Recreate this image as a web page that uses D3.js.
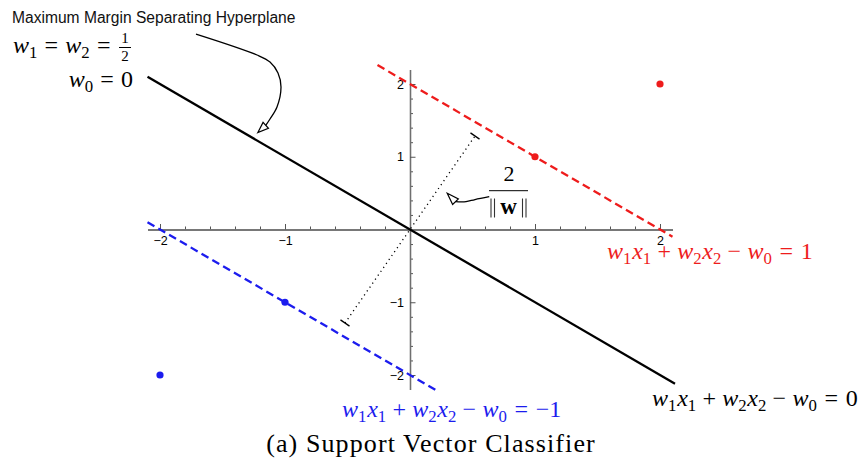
<!DOCTYPE html>
<html>
<head>
<meta charset="utf-8">
<script src="https://cdn.jsdelivr.net/npm/d3@7"></script>
<style>
  body { margin: 0; background: #fff; }
  svg { display: block; }
</style>
</head>
<body>
<svg id="chart" width="863" height="461"></svg>
<script>
// ---- data ---------------------------------------------------------------
const xTickValues = [-2, -1, 1, 2];
const yTickValues = [-2, -1, 1, 2];
const xTickLabels = ["\u22122", "\u22121", "1", "2"];
const yTickLabels = ["\u22122", "\u22121", "1", "2"];

// weights of the separating hyperplane  w1*x1 + w2*x2 - w0 = c
const weightW1 = 0.5;
const weightW2 = 0.5;
const weightW0 = 0;

// the three hyperplanes (c = 0, +1, -1) and the x1 span each is drawn over
const planeOffsets = [0, 1, -1];
const planeSpans = [[-2.1, 2.12], [-0.26, 2.1], [-2.1, 0.22]];

// support vectors / training points
const positivePoints = [[1, 1], [2, 2]];
const negativePoints = [[-1, -1], [-2, -2]];

// margin width indicator (dotted, with end caps)
const marginSegment = [[-0.52, -1.285], [0.52, 1.285]];

// annotation arrows, in data units
const hyperplaneArrow = [[-1.712, 2.687], [-1.224, 2.399], [-1.12, 2.302], [-1.056, 2.151],
                         [-1.032, 1.959], [-1.064, 1.684], [-1.12, 1.519], [-1.154, 1.432]];
const hyperplaneArrowTip = [-1.218, 1.331];
const marginArrow = [[0.634, 0.451], [0.52, 0.412], [0.448, 0.382], [0.364, 0.382]];
const marginArrowTip = [0.298, 0.498];

// ---- scales ---------------------------------------------------------------
const svg = d3.select("#chart");
svg.append("rect").attr("width", 863).attr("height", 461).attr("fill", "#fff");

const x = d3.scaleLinear().domain([-2.1, 2.1]).range([147.5, 672.5]);
const y = d3.scaleLinear().domain([-2.2, 2.2]).range([389.55, 69.45]);

const SERIF = '"Liberation Serif", "DejaVu Serif", serif';
const SANS = '"Liberation Sans", Arial, sans-serif';
const AXIS = "#6f6f6f";

// ---- axes -----------------------------------------------------------------
const minorX = d3.range(-20, 21, 2).map(v => v / 10).filter(v => Math.abs(v) > 1e-9 && !xTickValues.includes(v));
const minorY = d3.range(-20, 21, 2).map(v => v / 10).filter(v => Math.abs(v) > 1e-9 && !yTickValues.includes(v));

function styleAxis(g) {
  g.selectAll("path.domain").attr("stroke", AXIS).attr("stroke-width", 1.3);
  g.selectAll(".tick line").attr("stroke", "#555").attr("stroke-width", 1);
  g.selectAll(".tick text").attr("font-family", SANS).attr("font-size", 12.5).attr("fill", "#000");
}

// x axis: minor ticks, then major ticks with labels below
svg.append("g").attr("transform", `translate(0,${y(0)})`)
  .call(d3.axisBottom(x).tickValues(minorX).tickSizeInner(-3).tickSizeOuter(0).tickFormat(""))
  .call(styleAxis);
svg.append("g").attr("transform", `translate(0,${y(0)})`)
  .call(d3.axisBottom(x).tickValues(xTickValues).tickSizeInner(-5.5).tickSizeOuter(0).tickPadding(6.5)
    .tickFormat((d, i) => xTickLabels[i]))
  .call(styleAxis);

// y axis
svg.append("g").attr("transform", `translate(${x(0)},0)`)
  .call(d3.axisLeft(y).tickValues(minorY).tickSizeInner(-3).tickSizeOuter(0).tickFormat(""))
  .call(styleAxis);
svg.append("g").attr("transform", `translate(${x(0)},0)`)
  .call(d3.axisLeft(y).tickValues(yTickValues).tickSizeInner(-5.5).tickSizeOuter(0).tickPadding(6)
    .tickFormat((d, i) => yTickLabels[i]))
  .call(styleAxis);

// ---- hyperplanes ----------------------------------------------------------
const planeStyles = [
  { color: "#000", dash: null },
  { color: "#ee1c1c", dash: "8,4.5" },
  { color: "#1c1cee", dash: "8,4.5" }
];
const line = d3.line().x(d => x(d[0])).y(d => y(d[1]));
planeOffsets.forEach((c, i) => {
  const x2 = x1 => (c + weightW0 - weightW1 * x1) / weightW2;
  const pts = planeSpans[i].map(x1 => [x1, x2(x1)]);
  svg.append("path").attr("d", line(pts)).attr("fill", "none")
    .attr("stroke", planeStyles[i].color).attr("stroke-width", 2.3)
    .attr("stroke-dasharray", planeStyles[i].dash);
});

// ---- points ---------------------------------------------------------------
svg.selectAll("circle.pos").data(positivePoints).join("circle").attr("class", "pos")
  .attr("cx", d => x(d[0])).attr("cy", d => y(d[1])).attr("r", 3.6).attr("fill", "#ee1c1c");
svg.selectAll("circle.neg").data(negativePoints).join("circle").attr("class", "neg")
  .attr("cx", d => x(d[0])).attr("cy", d => y(d[1])).attr("r", 3.6).attr("fill", "#1c1cee");

// ---- margin indicator -----------------------------------------------------
svg.append("path").attr("d", line(marginSegment)).attr("fill", "none")
  .attr("stroke", "#000").attr("stroke-width", 1.3).attr("stroke-dasharray", "1.2,3.6");
{
  const [a, b] = marginSegment.map(p => [x(p[0]), y(p[1])]);
  const len = Math.hypot(b[0] - a[0], b[1] - a[1]);
  const nx = -(b[1] - a[1]) / len, ny = (b[0] - a[0]) / len;
  [a, b].forEach(p => {
    svg.append("line")
      .attr("x1", p[0] - nx * 5.5).attr("y1", p[1] - ny * 5.5)
      .attr("x2", p[0] + nx * 5.5).attr("y2", p[1] + ny * 5.5)
      .attr("stroke", "#000").attr("stroke-width", 1.3);
  });
}

// ---- annotation arrows ----------------------------------------------------
function openArrow(pts, tip) {
  const curve = d3.line().x(d => x(d[0])).y(d => y(d[1])).curve(d3.curveCatmullRom);
  svg.append("path").attr("d", curve(pts)).attr("fill", "none").attr("stroke", "#000").attr("stroke-width", 1.3);
  const base = [x(pts[pts.length - 1][0]), y(pts[pts.length - 1][1])];
  const apex = [x(tip[0]), y(tip[1])];
  const len = Math.hypot(apex[0] - base[0], apex[1] - base[1]);
  const nx = -(apex[1] - base[1]) / len * 4, ny = (apex[0] - base[0]) / len * 4;
  svg.append("path")
    .attr("d", `M${apex[0]},${apex[1]}L${base[0] + nx},${base[1] + ny}L${base[0] - nx},${base[1] - ny}Z`)
    .attr("fill", "#fff").attr("stroke", "#000").attr("stroke-width", 1.2).attr("stroke-linejoin", "miter");
}
openArrow(hyperplaneArrow, hyperplaneArrowTip);
openArrow(marginArrow, marginArrowTip);

// ---- math text helper -----------------------------------------------------
// tokens: [text, kind, dxEm]; kind: i = italic, r = roman, b = bold, sub = subscript
function mathText(px, py, size, color, tokens, anchor) {
  const t = svg.append("text").attr("x", px).attr("y", py).attr("fill", color)
    .attr("font-family", SERIF).attr("font-size", size).attr("text-anchor", anchor || "start");
  let shift = 0;
  tokens.forEach(([s, kind, dx]) => {
    const sub = kind === "sub";
    const target = sub ? size * 0.22 : 0;
    const ts = t.append("tspan").text(s);
    if (target - shift !== 0) ts.attr("dy", target - shift);
    shift = target;
    if (dx) ts.attr("dx", dx * size);
    if (kind === "i") ts.attr("font-style", "italic");
    if (kind === "b") ts.attr("font-weight", "bold");
    if (sub) ts.attr("font-size", size * 0.7);
  });
  return t;
}

const planeEquation = rhs => [
  ["w", "i"], ["1", "sub"], ["x", "i", 0.03], ["1", "sub"],
  ["+", "r", 0.26], ["w", "i", 0.26], ["2", "sub"], ["x", "i", 0.03], ["2", "sub"],
  ["\u2212", "r", 0.26], ["w", "i", 0.26], ["0", "sub"],
  ["=", "r", 0.32], [rhs, "r", 0.32]
];

mathText(652, 406, 24, "#000", planeEquation("0"));
mathText(607, 259, 24, "#ee1c1c", planeEquation("1"));
mathText(342, 417, 24, "#1c1cee", planeEquation("\u22121"));

// ---- hyperplane annotation --------------------------------------------------
svg.append("text").attr("x", 12).attr("y", 23).attr("font-family", SANS).attr("font-size", 15.6)
  .attr("fill", "#111").text("Maximum Margin Separating Hyperplane");

mathText(13, 53, 24, "#000", [["w", "i"], ["1", "sub"], ["=", "r", 0.3], ["w", "i", 0.3], ["2", "sub"], ["=", "r", 0.3]]);
svg.append("text").attr("x", 125).attr("y", 43).attr("text-anchor", "middle")
  .attr("font-family", SERIF).attr("font-size", 15).text("1");
svg.append("line").attr("x1", 119).attr("x2", 131).attr("y1", 47.5).attr("y2", 47.5)
  .attr("stroke", "#000").attr("stroke-width", 1);
svg.append("text").attr("x", 125).attr("y", 60.5).attr("text-anchor", "middle")
  .attr("font-family", SERIF).attr("font-size", 15).text("2");
mathText(133, 87, 24, "#000", [["w", "i"], ["0", "sub"], ["=", "r", 0.3], ["0", "r", 0.3]], "end");

// ---- margin width label  2 / ||w|| ------------------------------------------
svg.append("text").attr("x", 509).attr("y", 181).attr("text-anchor", "middle")
  .attr("font-family", SERIF).attr("font-size", 22).text("2");
svg.append("line").attr("x1", 489).attr("x2", 528).attr("y1", 190.7).attr("y2", 190.7)
  .attr("stroke", "#000").attr("stroke-width", 1);
svg.append("text").attr("x", 508.5).attr("y", 213.5).attr("text-anchor", "middle")
  .attr("font-family", SERIF).attr("font-size", 23).attr("font-weight", "bold").text("w");
// double norm bars
[491, 494.5, 522.5, 526].forEach(bx => {
  svg.append("line").attr("x1", bx).attr("x2", bx).attr("y1", 198.5).attr("y2", 217.5)
    .attr("stroke", "#333").attr("stroke-width", 1.1);
});

// ---- caption ----------------------------------------------------------------
svg.append("text").attr("x", 431).attr("y", 452).attr("text-anchor", "middle")
  .attr("font-family", SERIF).attr("font-size", 26).attr("letter-spacing", 1.1).attr("fill", "#000")
  .text("(a) Support Vector Classifier");
</script>
</body>
</html>
